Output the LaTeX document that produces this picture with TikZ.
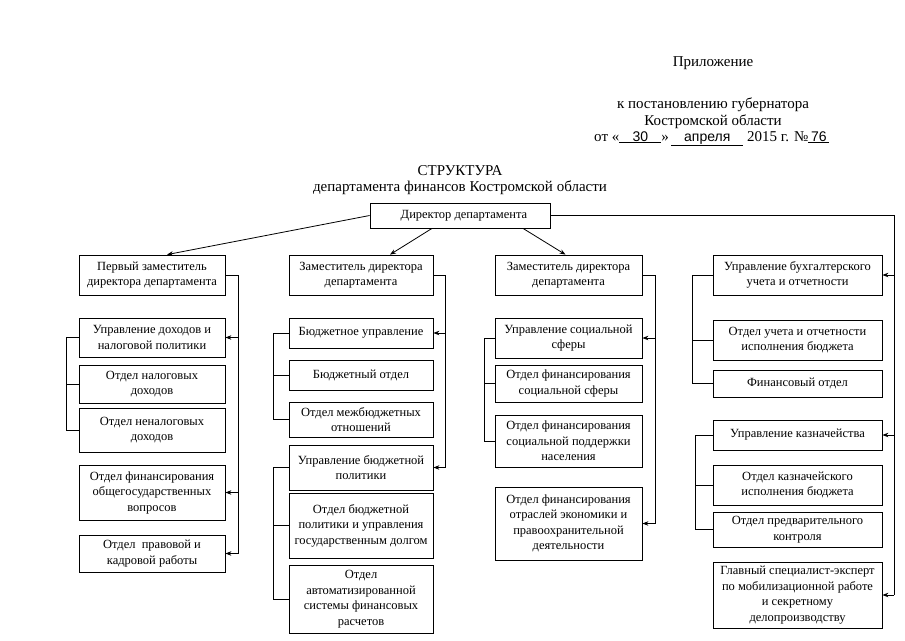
\documentclass[tikz,border=0pt]{standalone}
\usepackage{fontspec}
\setmainfont{Liberation Serif}
\setsansfont{Liberation Sans}
\usetikzlibrary{arrows.meta,calc}
\begin{document}
\begin{tikzpicture}[x=1pt,y=-1pt,
  bx/.style={draw,line width=0.8pt,inner sep=0pt,align=center,font=\fontsize{12.5}{15.5}\selectfont},
  ln/.style={line width=0.8pt},
  ar/.style={line width=0.8pt,-{Stealth[length=6pt,width=4.5pt]}},
  hd/.style={font=\fontsize{15}{16.5}\selectfont,align=center,inner sep=0pt}]
\useasboundingbox[fill=white] (0,0) rectangle (905,640);

% header
\node[hd] (pril) at (713,63) {Приложение};
\node[hd] (post) at (713,113) {к постановлению губернатора\\Костромской области};
\node[hd,anchor=base west] (ot) at (594,141) {от «\underline{\makebox[42pt]{\fontsize{14}{16}\sffamily 30}}»\,\underline{\makebox[72pt]{\fontsize{14}{16}\sffamily апреля}} 2015 г. №\underline{\makebox[21pt]{\fontsize{14}{16}\sffamily 76}}};
\node[hd] (title) at (460,180) {СТРУКТУРА\\департамента финансов Костромской области};

% director
\node[bx,minimum width=180pt,minimum height=25pt] (dir) at (460,215.5) {\hspace*{8pt}Директор департамента};

% column 1
\node[bx,minimum width=146pt,minimum height=40pt] (d1) at (152,275) {Первый заместитель\\директора департамента};
\node[bx,minimum width=146pt,minimum height=39pt] (c1a) at (152,337.5) {Управление доходов и\\налоговой политики};
\node[bx,minimum width=146pt,minimum height=38pt] (c1b) at (152,384) {Отдел налоговых\\доходов};
\node[bx,minimum width=146pt,minimum height=44pt] (c1c) at (152,430) {Отдел неналоговых\\доходов};
\node[bx,minimum width=146pt,minimum height=55pt] (c1d) at (152,492.5) {Отдел финансирования\\общегосударственных\\вопросов};
\node[bx,minimum width=146pt,minimum height=37pt] (c1e) at (152,553.5) {Отдел\ \ правовой и\\кадровой работы};

% column 2
\node[bx,minimum width=144pt,minimum height=40pt] (d2) at (361,275) {Заместитель директора\\департамента};
\node[bx,minimum width=144pt,minimum height=30pt] (c2a) at (361,333) {Бюджетное управление};
\node[bx,minimum width=144pt,minimum height=30pt] (c2b) at (361,375) {Бюджетный отдел};
\node[bx,minimum width=144pt,minimum height=35pt] (c2c) at (361,419.5) {Отдел межбюджетных\\отношений};
\node[bx,minimum width=144pt,minimum height=45pt] (c2d) at (361,467.5) {Управление бюджетной\\политики};
\node[bx,minimum width=144pt,minimum height=65pt] (c2e) at (361,525.5) {Отдел бюджетной\\политики и управления\\государственным долгом};
\node[bx,minimum width=144pt,minimum height=68pt] (c2f) at (361,599) {Отдел\\автоматизированной\\системы финансовых\\расчетов};

% column 3
\node[bx,minimum width=147pt,minimum height=40pt] (d3) at (568.5,275) {Заместитель директора\\департамента};
\node[bx,minimum width=147pt,minimum height=40pt] (c3a) at (568.5,338) {Управление социальной\\сферы};
\node[bx,minimum width=147pt,minimum height=37pt] (c3b) at (568.5,383.5) {Отдел финансирования\\социальной сферы};
\node[bx,minimum width=147pt,minimum height=52pt] (c3c) at (568.5,441) {Отдел финансирования\\социальной поддержки\\населения};
\node[bx,minimum width=147pt,minimum height=73pt] (c3d) at (568.5,523.5) {Отдел финансирования\\отраслей экономики и\\правоохранительной\\деятельности};

% column 4
\node[bx,minimum width=169pt,minimum height=40pt] (c4a) at (797.5,275) {Управление бухгалтерского\\учета и отчетности};
\node[bx,minimum width=169pt,minimum height=40pt] (c4b) at (797.5,340) {Отдел учета и отчетности\\исполнения бюджета};
\node[bx,minimum width=169pt,minimum height=27pt] (c4c) at (797.5,383.5) {Финансовый отдел};
\node[bx,minimum width=169pt,minimum height=30pt] (c4d) at (797.5,435) {Управление казначейства};
\node[bx,minimum width=169pt,minimum height=40pt] (c4e) at (797.5,485) {Отдел казначейского\\исполнения бюджета};
\node[bx,minimum width=169pt,minimum height=35pt] (c4f) at (797.5,529.5) {Отдел предварительного\\контроля};
\node[bx,minimum width=169pt,minimum height=66pt] (c4g) at (797.5,595) {Главный специалист-эксперт\\по мобилизационной работе\\и секретному\\делопроизводству};

% guide coordinates
\coordinate (r1) at (238,0);
\coordinate (l1) at (66,0);
\coordinate (r2) at (445,0);
\coordinate (l2) at (273,0);
\coordinate (r3) at (655,0);
\coordinate (l3) at (484,0);
\coordinate (r4) at (894,0);
\coordinate (l4) at (692,0);
\coordinate (l5) at (695,0);

% director connectors
\draw[ar] (dir.west) -- ([xshift=15pt]d1.north);
\draw[ar] ([xshift=-28pt]dir.south) -- ([xshift=29pt]d2.north);
\draw[ar] ([xshift=63pt]dir.south) -- ([xshift=-3pt]d3.north);
\draw[ln] (dir.east) -- (dir.east -| r4) -- (c4g.east -| r4);
\draw[ar] (c4a.east -| r4) -- (c4a.east);
\draw[ar] (c4d.east -| r4) -- (c4d.east);
\draw[ar] (c4g.east -| r4) -- (c4g.east);

% column 1 connectors
\draw[ln] (d1.east) -- (d1.east -| r1) -- (c1e.east -| r1);
\draw[ar] (c1a.east -| r1) -- (c1a.east);
\draw[ar] (c1d.east -| r1) -- (c1d.east);
\draw[ar] (c1e.east -| r1) -- (c1e.east);
\draw[ln] (c1a.west) -- (c1a.west -| l1) -- (c1c.west -| l1) -- (c1c.west);
\draw[ln] (c1b.west -| l1) -- (c1b.west);

% column 2 connectors
\draw[ln] (d2.east) -- (d2.east -| r2) -- (c2d.east -| r2);
\draw[ar] (c2a.east -| r2) -- (c2a.east);
\draw[ar] (c2d.east -| r2) -- (c2d.east);
\draw[ln] (c2a.west) -- (c2a.west -| l2) -- (c2c.west -| l2) -- (c2c.west);
\draw[ln] (c2b.west -| l2) -- (c2b.west);
\draw[ln] (c2d.west) -- (c2d.west -| l2) -- (c2f.west -| l2) -- (c2f.west);
\draw[ln] (c2e.west -| l2) -- (c2e.west);

% column 3 connectors
\draw[ln] (d3.east) -- (d3.east -| r3) -- (c3d.east -| r3);
\draw[ar] (c3a.east -| r3) -- (c3a.east);
\draw[ar] (c3d.east -| r3) -- (c3d.east);
\draw[ln] (c3a.west) -- (c3a.west -| l3) -- (c3c.west -| l3) -- (c3c.west);
\draw[ln] (c3b.west -| l3) -- (c3b.west);

% column 4 connectors
\draw[ln] (c4a.west) -- (c4a.west -| l4) -- (c4c.west -| l4) -- (c4c.west);
\draw[ln] (c4b.west -| l4) -- (c4b.west);
\draw[ln] (c4d.west) -- (c4d.west -| l5) -- (c4f.west -| l5) -- (c4f.west);
\draw[ln] (c4e.west -| l5) -- (c4e.west);
\end{tikzpicture}
\end{document}
